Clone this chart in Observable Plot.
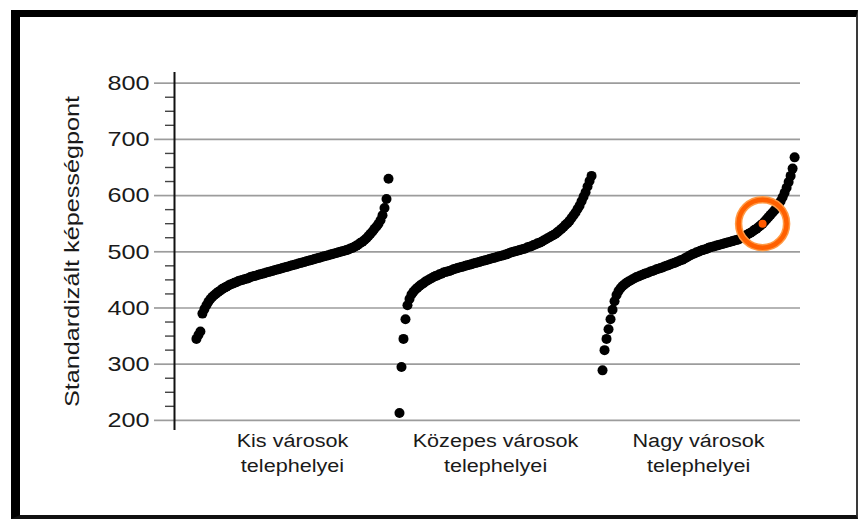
<!DOCTYPE html>
<html><head><meta charset="utf-8">
<script src="https://cdn.jsdelivr.net/npm/d3@7"></script>
<script src="https://cdn.jsdelivr.net/npm/@observablehq/plot@0.6"></script>
<style>
html,body{margin:0;padding:0;background:#fff;}
#wrap{position:relative;width:860px;height:519px;overflow:hidden;background:#fff;}
#frame{position:absolute;left:11px;top:10px;right:2px;bottom:0;box-sizing:border-box;
  border-top:7px solid #000;border-left:9px solid #000;border-right:2px solid #3a3a3a;border-bottom:4px solid #111;pointer-events:none;}
</style></head><body><div id="wrap"><div id="frame"></div></div>
<script>
const yLabel = "Standardizált képességpont";
const categoryLine1 = ["Kis városok", "Közepes városok", "Nagy városok"];
const categoryLine2 = ["telephelyei", "telephelyei", "telephelyei"];
const yTicks = [200, 300, 400, 500, 600, 700, 800];
const yMinorTicks = [225, 250, 275, 325, 350, 375, 425, 450, 475, 525, 550, 575, 625, 650, 675, 725, 750, 775];

// sorted site scores per group
const kis = [345,352,358,390,398,405,411,416,420,423,426,429,431,434,436,438,440,442,443,445,446,448,449,450,451,452,453,455,456,457,458,459,460,461,462,463,464,465,466,467,468,469,470,471,472,473,474,475,476,477,478,479,480,481,482,483,484,485,486,487,488,489,490,491,492,493,494,495,496,497,498,499,500,501,502,503,504,506,507,509,511,513,516,518,521,524,528,532,536,541,545,550,556,565,578,594,630];
const kozepes = [213,295,345,380,405,416,424,429,433,436,439,442,444,447,449,451,453,455,457,458,460,461,463,464,465,466,467,469,470,471,472,473,474,475,476,477,478,479,480,481,482,483,484,485,486,487,488,489,490,491,492,493,494,495,496,498,499,500,501,502,503,504,505,506,508,509,510,512,513,515,516,518,520,522,524,526,528,530,532,535,538,541,544,548,551,555,560,565,570,576,582,590,598,606,616,626,635];
const nagy = [289,325,345,362,380,397,412,423,430,435,439,442,445,447,449,451,453,455,456,458,459,461,462,463,465,466,467,469,470,471,472,474,475,476,478,479,480,482,483,485,486,488,490,492,494,496,497,499,500,502,503,504,505,507,508,509,510,511,512,513,514,515,516,517,518,519,520,521,522,524,526,528,530,532,534,536,539,541,544,547,550,554,558,562,566,570,574,579,584,590,597,605,614,624,635,648,668];
const highlightGroup = 2;
const highlightIndex = 80;

const spread = 0.946;
const rows = [];
[kis, kozepes, nagy].forEach((vals, g) => {
  vals.forEach((v, i) => rows.push({g, i, x: g + (i / (vals.length - 1) - 0.5) * spread, v}));
});
const hl = rows.filter(d => d.g === highlightGroup && d.i === highlightIndex);

const chart = Plot.plot({
  width: 860,
  height: 519,
  marginLeft: 174,
  marginRight: 60,
  marginTop: 72,
  marginBottom: 89,
  style: {fontFamily: "'Liberation Sans', Arial, sans-serif", background: "transparent", color: "#1a1a1a", overflow: "visible"},
  x: {domain: [-0.581, 2.502]},
  y: {domain: [182, 819]},
  marks: [
    Plot.gridY(yTicks, {stroke: "#9c9c9c", strokeOpacity: 1, strokeWidth: 1.7}),
    Plot.axisY({ticks: yTicks, tickSize: 20, tickPadding: 5, stroke: "#9c9c9c", strokeWidth: 1.7, fill: "#1a1a1a", fontSize: 21, tickFormat: d => String(d), label: null}),
    Plot.axisY({ticks: yMinorTicks, tickSize: 9, stroke: "#444", strokeWidth: 1.4, tickFormat: () => "", label: null}),
    Plot.ruleX([-0.581], {y1: 182, y2: 819, stroke: "#111", strokeWidth: 2}),
    Plot.axisX({ticks: [0, 1, 2], tickSize: 0, tickPadding: 4, fontSize: 18, fill: "#1a1a1a", tickFormat: i => categoryLine1[i], label: null}),
    Plot.axisX({ticks: [0, 1, 2], tickSize: 0, tickPadding: 29, fontSize: 18, fill: "#1a1a1a", tickFormat: i => categoryLine2[i], label: null}),
    Plot.text([yLabel], {frameAnchor: "left", dx: -102, rotate: -90, textAnchor: "middle", lineAnchor: "middle", fontSize: 21, fill: "#1a1a1a"}),
    Plot.dot(rows, {x: "x", y: "v", r: 5, fill: "#000"}),
    Plot.dot(hl, {x: "x", y: "v", r: 24, stroke: "#ff9a45", strokeWidth: 7.5, fill: "none"}),
    Plot.dot(hl, {x: "x", y: "v", r: 24, stroke: "#ff6000", strokeWidth: 4.5, fill: "none"}),
    Plot.dot(hl, {x: "x", y: "v", r: 4, fill: "#ff5a00"})
  ]
});
const wrap = document.getElementById("wrap");
chart.style.position = "absolute";
chart.style.left = "0";
chart.style.top = "0";
wrap.insertBefore(chart, wrap.firstChild);
// wider letterforms as in the original
d3.select(chart).selectAll("text").each(function() {
  const len = this.getComputedTextLength();
  if (len > 0) {
    this.setAttribute("textLength", (len * 1.2).toFixed(1));
    this.setAttribute("lengthAdjust", "spacingAndGlyphs");
  }
});
</script></body></html>
